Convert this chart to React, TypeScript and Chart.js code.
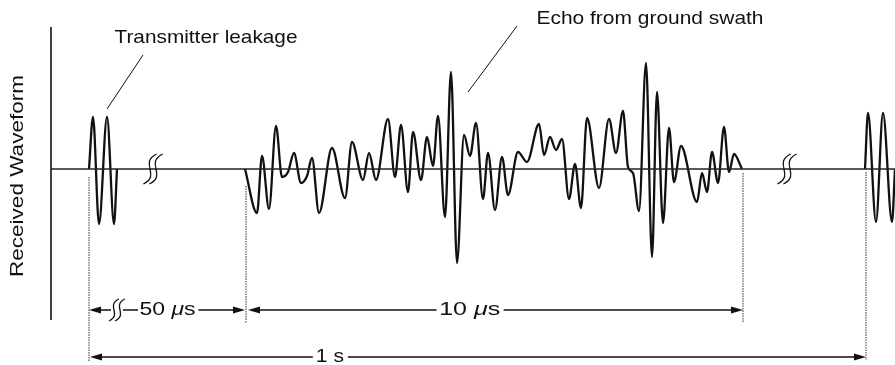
import { useEffect, useRef } from "react";
import { Chart, registerables } from "chart.js";

Chart.register(...registerables);

// Time axis in arbitrary units; amplitude relative to the baseline.
const baselineTimes = [51, 895];
const baselineAmps = [0, 0];

const leakTimes = [89, 93, 99, 107, 114, 117];
const leakAmps = [0, 52, -55, 52, -55, 0];

const echoTimes = [
  245, 257, 262, 269, 276, 282, 288, 294, 301, 307, 312, 319, 332, 345, 352, 363, 369, 376,
  388, 395, 401, 408, 413, 421, 427, 433, 438, 445, 451, 457, 464, 470, 476, 483, 488, 495,
  502, 508, 518, 527, 539, 544, 550, 556, 562, 569, 575, 581, 587, 599, 609, 616, 623, 628,
  633, 639, 646, 652, 657, 663, 669, 674, 681, 697, 702, 707, 712, 718, 724, 729, 734, 742,
];
const echoAmps = [
  0, -44, 13, -40, 43, -8, -3, 16, -14, -7, 11, -44, 21, -29, 27, -11, 16, -11,
  50, -8, 44, -23, 37, -11, 32, 3, 53, -48, 97, -94, 34, 13, 46, -30, 16, -41,
  12, -26, 17, 7, 45, 14, 32, 19, 30, -30, 5, -39, 51, -19, 50, 16, 58, 2,
  -4, -42, 106, -88, 77, -54, 41, -13, 23, -33, -4, -23, 17, -14, 42, -3, 15, 0,
];

const nextTimes = [865, 868, 876, 883, 892, 895];
const nextAmps = [0, 56, -53, 56, -53, 0];

// Markers: leakage start, echo start, echo end, next pulse start
const markerTimes = [89, 246, 743, 866];
const spanLabels = ["50 ", "10 ", "1 s"];
const titleTexts = ["Transmitter leakage", "Echo from ground swath", "Received Waveform"];

const FONT = '"Liberation Sans", Arial, sans-serif';
const INK = "#111";

function pts(xs: number[], ys: number[]) {
  return xs.map((x, i) => ({ x, y: ys[i] }));
}

function fitText(
  ctx: CanvasRenderingContext2D,
  parts: [string, boolean][],
  cx: number,
  cy: number,
  size: number,
  width: number,
  rot = 0
) {
  ctx.save();
  ctx.translate(cx, cy);
  ctx.rotate(rot);
  const fontOf = (it: boolean) => `${it ? "italic " : ""}${size}px ${FONT}`;
  let total = 0;
  const ws = parts.map(([t, it]) => {
    ctx.font = fontOf(it);
    const w = ctx.measureText(t).width;
    total += w;
    return w;
  });
  ctx.scale(width / total, 1);
  let x = -total / 2;
  ctx.textBaseline = "middle";
  ctx.textAlign = "left";
  ctx.fillStyle = INK;
  parts.forEach(([t, it], i) => {
    ctx.font = fontOf(it);
    ctx.fillText(t, x, 0);
    x += ws[i];
  });
  ctx.restore();
}

function line(ctx: CanvasRenderingContext2D, x0: number, y0: number, x1: number, y1: number) {
  ctx.beginPath();
  ctx.moveTo(x0, y0);
  ctx.lineTo(x1, y1);
  ctx.stroke();
}

function arrowHead(ctx: CanvasRenderingContext2D, tipX: number, y: number, dir: number) {
  const len = 12;
  const hw = 3.5;
  ctx.beginPath();
  ctx.moveTo(tipX, y);
  ctx.lineTo(tipX - dir * len, y - hw);
  ctx.lineTo(tipX - dir * len, y + hw);
  ctx.closePath();
  ctx.fill();
}

function breakMark(ctx: CanvasRenderingContext2D, cx: number, cy: number, h: number) {
  for (const dx of [-3, 3]) {
    const x0 = cx + dx - h * 0.22;
    const y0 = cy + h / 2;
    const x1 = cx + dx + h * 0.22;
    const y1 = cy - h / 2;
    ctx.beginPath();
    ctx.moveTo(x0, y0);
    ctx.bezierCurveTo(x0 + h * 0.6, y0 - h * 0.3, x1 - h * 0.6, y1 + h * 0.3, x1, y1);
    ctx.stroke();
  }
}

const annotations = {
  id: "annotations",
  afterDatasetsDraw(chart: any) {
    const ctx: CanvasRenderingContext2D = chart.ctx;
    const xs = chart.scales.x;
    const ys = chart.scales.y;
    const X = (v: number) => xs.getPixelForValue(v);
    const Y = (v: number) => ys.getPixelForValue(v);
    const [tLeak, tEcho0, tEcho1, tNext] = markerTimes.map(X);
    const yBase = Y(0);

    ctx.save();
    ctx.strokeStyle = INK;
    ctx.fillStyle = INK;

    // vertical axis line
    ctx.lineWidth = 1.6;
    line(ctx, X(51), Y(142), X(51), Y(-151));

    // dotted marker lines
    ctx.lineWidth = 1;
    ctx.strokeStyle = "#333";
    ctx.setLineDash([1.5, 1]);
    line(ctx, tLeak, Y(-8), tLeak, Y(-192));
    line(ctx, tEcho0, Y(-17), tEcho0, Y(-154));
    line(ctx, tEcho1, Y(-4), tEcho1, Y(-153));
    line(ctx, tNext, Y(-3), tNext, Y(-191));
    ctx.setLineDash([]);
    ctx.strokeStyle = INK;

    // break marks on the baseline
    ctx.lineWidth = 1.3;
    breakMark(ctx, X(153), yBase, 30);
    breakMark(ctx, X(787), yBase, 30);

    // dimension row 1
    const r1 = Y(-141);
    ctx.lineWidth = 1.3;
    arrowHead(ctx, tLeak, r1, -1);
    line(ctx, tLeak + 4, r1, 138, r1);
    const c50 = (tLeak + tEcho0) / 2;
    fitText(ctx, [["50 ", false], ["\u03bc", true], ["s", false]], c50, r1, 18, 56);
    line(ctx, c50 + 31, r1, tEcho0 - 4, r1);
    arrowHead(ctx, tEcho0 - 1, r1, 1);
    ctx.save();
    ctx.fillStyle = "#fff";
    ctx.fillRect(X(111), r1 - 2, 12, 4);
    ctx.restore();
    breakMark(ctx, X(117), r1, 22);

    arrowHead(ctx, tEcho0 + 2, r1, -1);
    const c10 = tEcho0 + (tEcho1 - tEcho0) * 0.45;
    line(ctx, tEcho0 + 6, r1, c10 - 33, r1);
    fitText(ctx, [["10 ", false], ["\u03bc", true], ["s", false]], c10, r1, 18, 61);
    line(ctx, c10 + 34, r1, tEcho1 - 4, r1);
    arrowHead(ctx, tEcho1, r1, 1);

    // dimension row 2
    const r2 = Y(-188);
    arrowHead(ctx, tLeak + 1, r2, -1);
    const c1 = tLeak + (tNext - tLeak) * 0.31;
    line(ctx, tLeak + 6, r2, c1 - 17, r2);
    fitText(ctx, [[spanLabels[2], false]], c1, r2, 18, 28);
    line(ctx, c1 + 18, r2, tNext - 4, r2);
    arrowHead(ctx, tNext, r2, 1);

    // leader lines
    ctx.lineWidth = 1;
    line(ctx, X(143), Y(114), X(107), Y(60));
    line(ctx, X(517), Y(143), X(468), Y(77));

    // texts
    fitText(ctx, [[titleTexts[0], false]], X(206), 38, 19, 183);
    fitText(ctx, [[titleTexts[1], false]], X(650), 19, 19, 227);
    fitText(ctx, [[titleTexts[2], false]], 18, 176, 18, 202, -Math.PI / 2);

    ctx.restore();
  },
};

export default function App() {
  const ref = useRef<HTMLCanvasElement>(null);
  useEffect(() => {
    document.body.style.margin = "0";
    const canvas = ref.current!;
    const wave = {
      borderColor: INK,
      borderWidth: 2.3,
      pointRadius: 0,
      fill: false,
      cubicInterpolationMode: "monotone" as const,
    };
    const chart = new Chart(canvas, {
      type: "line",
      data: {
        datasets: [
          {
            data: pts(baselineTimes, baselineAmps),
            borderColor: "#222",
            borderWidth: 1.3,
            pointRadius: 0,
            fill: false,
          },
          { ...wave, data: pts(leakTimes, leakAmps) },
          { ...wave, data: pts(echoTimes, echoAmps) },
          { ...wave, data: pts(nextTimes, nextAmps) },
        ],
      },
      options: {
        animation: false,
        responsive: false,
        maintainAspectRatio: false,
        events: [],
        layout: { padding: 0 },
        plugins: { legend: { display: false }, tooltip: { enabled: false } },
        scales: {
          x: { type: "linear", min: 0, max: 895, display: false },
          y: { type: "linear", min: -196, max: 169, display: false },
        },
      },
      plugins: [annotations],
    });
    return () => chart.destroy();
  }, []);
  return (
    <div style={{ position: "fixed", left: 0, top: 0, width: 895, height: 365, background: "#fff" }}>
      <canvas ref={ref} width={895} height={365} />
    </div>
  );
}
